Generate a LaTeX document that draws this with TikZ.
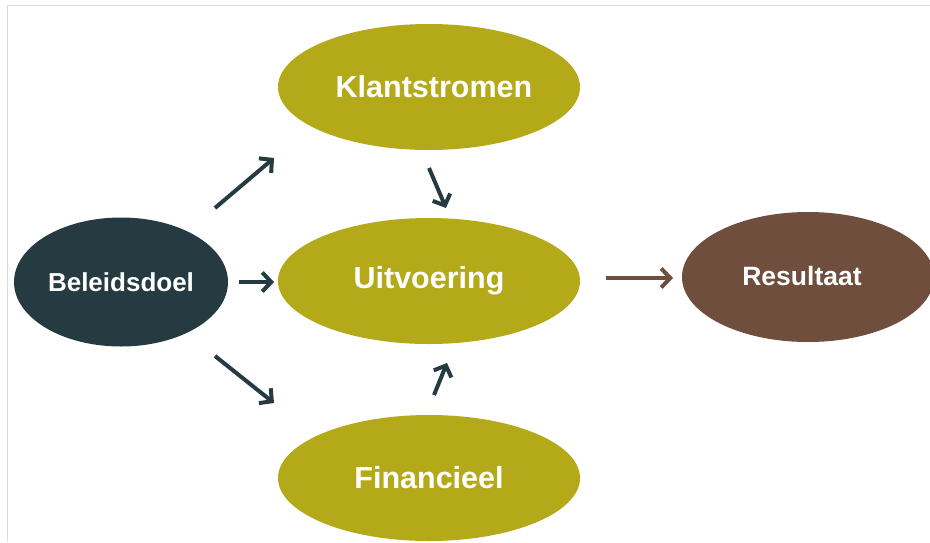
\documentclass[tikz,border=0pt]{standalone}
\usepackage{fontspec}
\setmainfont{Liberation Sans}
\usetikzlibrary{shapes.geometric,arrows.meta}
\definecolor{olive}{HTML}{B3A919}
\definecolor{darkteal}{HTML}{253B41}
\definecolor{brownish}{HTML}{6F4E3D}
\definecolor{framegray}{HTML}{D3DBE3}
\begin{document}
\begin{tikzpicture}[x=1pt,y=-1pt,
  blob/.style={ellipse,inner sep=0pt,text=white,font=\bfseries},
  olivebox/.style={blob,fill=olive,minimum width=302pt,minimum height=126pt,font=\bfseries\fontsize{30.5}{34}\selectfont},
  flow/.style={line width=4pt,draw=darkteal,-{Straight Barb[length=9pt,width=19pt,line width=4pt]}},
]
\useasboundingbox (0,0) rectangle (930,542);
\clip (0,0) rectangle (930,542);
\fill[white] (0,0) rectangle (930,542);
% page frame
\draw[framegray,line width=1pt] (7,542) -- (7,5) -- (930,5);

\node[olivebox] (klant) at (429,87) {\hspace*{10pt}Klantstromen};
\node[olivebox] (uitv) at (429,281) {Uitvoering};
\node[olivebox] (fin) at (429,478) {Financieel};
\node[blob,fill=darkteal,minimum width=214pt,minimum height=129pt,font=\bfseries\fontsize{26}{30}\selectfont] (doel) at (121,282) {Beleidsdoel};
\node[blob,fill=brownish,minimum width=252pt,minimum height=130pt,font=\bfseries\fontsize{26.5}{30}\selectfont] (res) at (808,277) {\hspace*{-12pt}\raisebox{3pt}{Resultaat}};

% connectors
\coordinate (a1s) at (215,208); \coordinate (a1e) at (274,158);
\coordinate (a2s) at (239,282); \coordinate (a2e) at (274,282);
\coordinate (a3s) at (215,356); \coordinate (a3e) at (274,403);
\coordinate (a4s) at (429,168); \coordinate (a4e) at (446,208);
\coordinate (a5s) at (434,395); \coordinate (a5e) at (447,363);
\coordinate (a6s) at (606,278); \coordinate (a6e) at (673,278);
\draw[flow] (a1s) -- (a1e);
\draw[flow] (a2s) -- (a2e);
\draw[flow] (a3s) -- (a3e);
\draw[flow] (a4s) -- (a4e);
\draw[flow] (a5s) -- (a5e);
\draw[flow,draw=brownish] (a6s) -- (a6e);
\end{tikzpicture}
\end{document}
